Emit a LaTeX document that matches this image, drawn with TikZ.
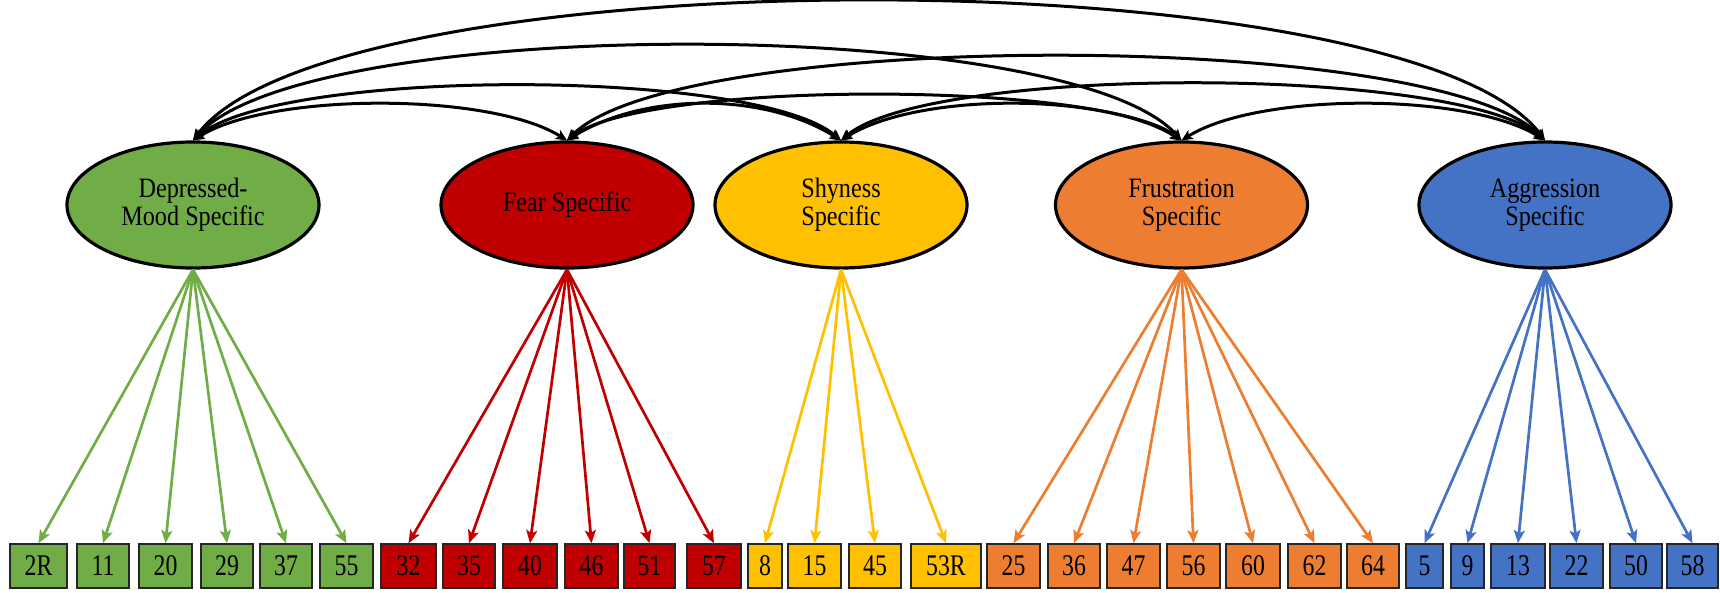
\documentclass[tikz,border=0pt]{standalone}
\usepackage{fontspec}
\setmainfont{Liberation Serif}
\usetikzlibrary{arrows.meta,shapes.geometric}
\definecolor{cgreen}{HTML}{70AD47}
\definecolor{cred}{HTML}{C00000}
\definecolor{cyellow}{HTML}{FFC000}
\definecolor{corange}{HTML}{ED7D31}
\definecolor{cblue}{HTML}{4472C4}
\newcommand\tallnum[1]{\scalebox{0.95}[1.2]{#1}}
\newcommand\talltext[1]{\scalebox{0.95}[1.1]{#1}}
\begin{document}
\begin{tikzpicture}[x=1pt,y=1pt,
  lat/.style={ellipse, draw=black, line width=3.2pt, minimum width=252pt,
    minimum height=126pt, inner sep=0pt, align=center,
    font=\fontsize{25.5}{28}\selectfont},
  ind/.style={draw=black!85, line width=1.6pt, minimum height=44pt,
    inner sep=0pt, font=\fontsize{25}{25}\selectfont},
  load/.style={line width=2.7pt, -{Stealth[length=13pt,width=11pt,inset=3pt]}},
  cov/.style={line width=3pt, draw=black,
    {Stealth[length=11pt,width=10pt,inset=2.5pt]}-{Stealth[length=11pt,width=10pt,inset=2.5pt]}}]
\useasboundingbox (0,0) rectangle (1720,592);

% latent factors
\node[lat, fill=cgreen]  (dep) at (193,387)    {\talltext{Depressed-}\\\talltext{Mood Specific}};
\node[lat, fill=cred]    (fea) at (567,387)    {\talltext{Fear Specific}};
\node[lat, fill=cyellow] (shy) at (841,387)    {\talltext{Shyness}\\\talltext{Specific}};
\node[lat, fill=corange] (fru) at (1181.5,387) {\talltext{Frustration}\\\talltext{Specific}};
\node[lat, fill=cblue]   (agg) at (1545,387)   {\talltext{Aggression}\\\talltext{Specific}};

% indicators and loadings
\foreach \n/\x/\w/\c/\p in {
  2R/38.5/57/cgreen/dep, 11/103/52/cgreen/dep, 20/165.5/53/cgreen/dep,
  29/227/52/cgreen/dep, 37/286/52/cgreen/dep, 55/346.5/53/cgreen/dep,
  32/408.5/55/cred/fea, 35/469/52/cred/fea, 40/530/54/cred/fea,
  46/591.5/53/cred/fea, 51/649.5/51/cred/fea, 57/714/54/cred/fea,
  8/765/34/cyellow/shy, 15/814.5/53/cyellow/shy, 45/875/52/cyellow/shy,
  53R/946/70/cyellow/shy,
  25/1013.5/53/corange/fru, 36/1074/52/corange/fru, 47/1133.5/53/corange/fru,
  56/1193.5/53/corange/fru, 60/1253/54/corange/fru, 62/1314.5/53/corange/fru,
  64/1373/52/corange/fru,
  5/1424.5/37/cblue/agg, 9/1467.5/33/cblue/agg, 13/1518/54/cblue/agg,
  22/1576.5/53/cblue/agg, 50/1636/52/cblue/agg, 58/1692.5/51/cblue/agg}
{
  \node[ind, fill=\c, minimum width=\w pt] (i\n) at (\x,26) {\tallnum{\n}};
  \draw[load, draw=\c] (\p.south) -- (i\n.north);
}

% factor covariances
\draw[cov] (dep.north) .. controls +(32:91)  and +(148:91)  .. (fea.north);
\draw[cov] (fea.north) .. controls +(32:91)  and +(148:91)  .. (shy.north);
\draw[cov] (shy.north) .. controls +(32:91)  and +(148:91)  .. (fru.north);
\draw[cov] (fru.north) .. controls +(32:91)  and +(148:91)  .. (agg.north);
\draw[cov] (dep.north) .. controls +(40:113) and +(140:113) .. (shy.north);
\draw[cov] (fea.north) .. controls +(37:100) and +(143:100) .. (fru.north);
\draw[cov] (shy.north) .. controls +(40:117) and +(140:117) .. (agg.north);
\draw[cov] (dep.north) .. controls +(48:170) and +(132:170) .. (fru.north);
\draw[cov] (fea.north) .. controls +(45:158) and +(135:158) .. (agg.north);
\draw[cov] (dep.north) .. controls +(53:232) and +(127:232) .. (agg.north);
\end{tikzpicture}
\end{document}
